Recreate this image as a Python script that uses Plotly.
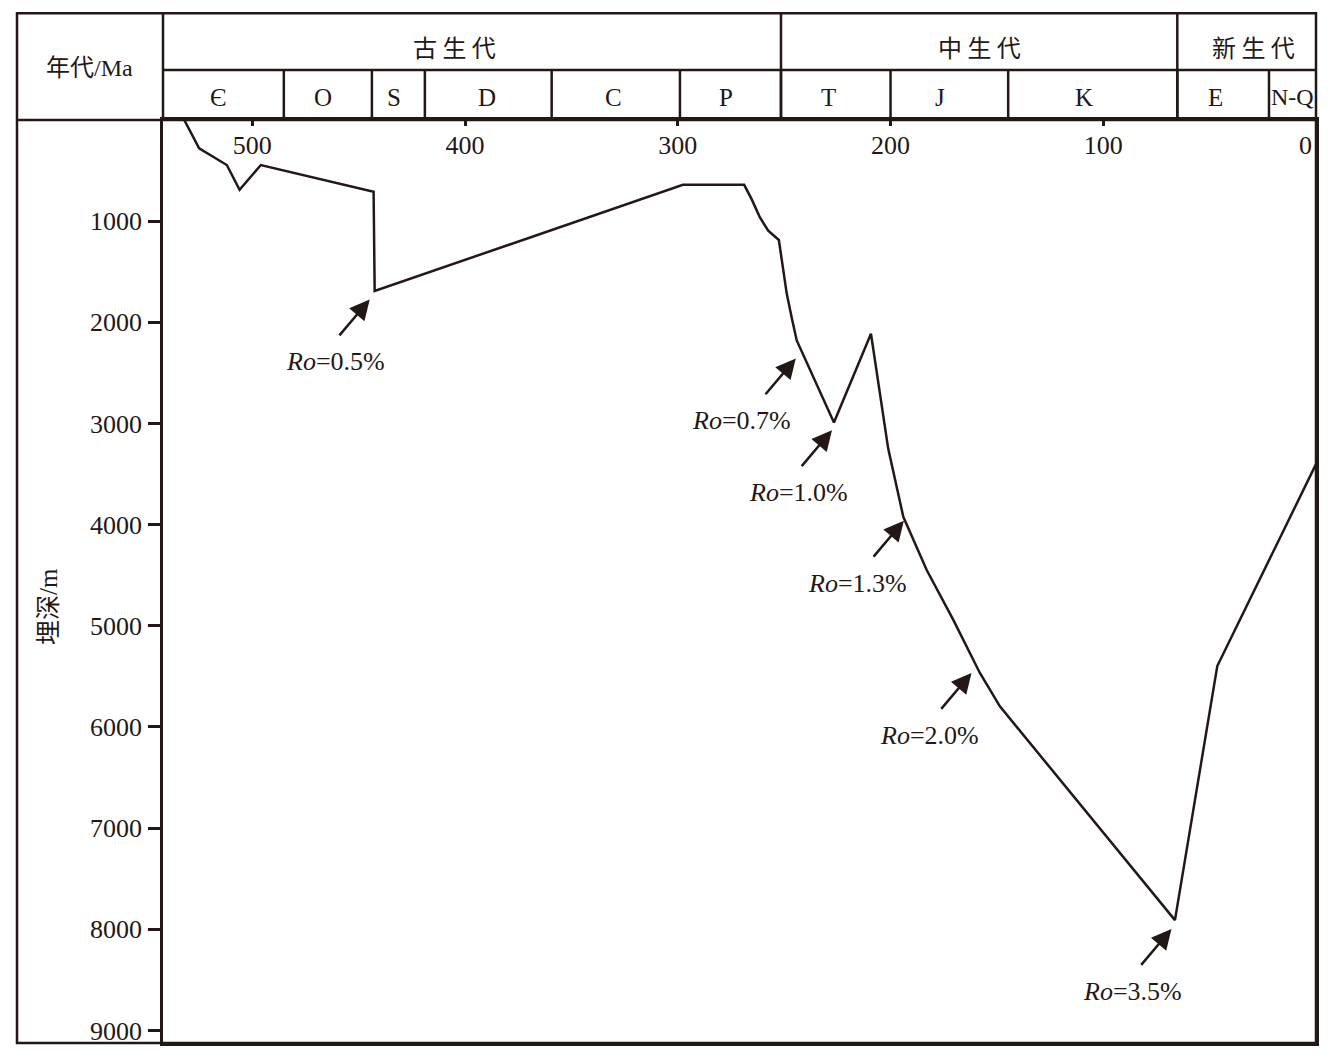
import plotly.graph_objects as go

# ---------------- data ----------------
ages = [532, 525, 512, 506, 496, 443, 442.5, 297.6, 268.8, 265.3, 261.4, 257.5,
        252.5, 251.2, 248.8, 246.5, 244.1, 226.6, 209.2, 201.1, 194.0, 183.0,
        170.5, 158.0, 148.6, 66.3, 46.4, 0]
depths = [0, 280, 445, 690, 445, 710, 1690, 641, 641, 782, 963, 1095,
          1186, 1391, 1716, 1950, 2179, 2991, 2113, 3248, 3922, 4448,
          4941, 5466, 5796, 7909, 5398, 3402]

era_names = ["古 生 代", "中 生 代", "新 生 代"]
era_bounds = [542, 251.5, 65.2, 0]
period_names = ["Є", "O", "S", "D", "C", "P", "T", "J", "K", "E", "N-Q"]
period_bounds = [542, 485.2, 443.8, 418.9, 359.3, 299.0, 251.5, 200.0, 144.7, 65.2, 22.1, 0]

ro_values = ["0.5%", "0.7%", "1.0%", "1.3%", "2.0%", "3.5%"]
ro_ages = [441.8, 241.5, 224.5, 190.7, 158.9, 64.9]
ro_depths = [1699, 2281, 2991, 3886, 5391, 7922]

x_tick_vals = [500, 400, 300, 200, 100]
x_end_label = "0"
y_tick_vals = [1000, 2000, 3000, 4000, 5000, 6000, 7000, 8000, 9000]

x_title = "年代/Ma"
y_title = "埋深/m"

# ---------------- style ----------------
INK = "#231815"
LW = 2.5
SERIF = "Liberation Serif, Times New Roman, serif"
CJK = "Liberation Serif, Noto Sans CJK SC, sans-serif"
W, H = 1332, 1058
L, R, T, B = 163, 16, 120, 13
PW, PH = W - L - R, H - T - B


def px_to_paper_x(px):
    return (px - L) / PW


def py_to_paper_y(py):
    return (H - B - py) / PH


label_xshift = [-41, -61, -40, -53, -48, -45]
label_yshift = -70
era_xshift = [-17, 0, 7]
period_xshift = [-5, -5, -4, -1, -2, -4, -7, -9, -9, -8, 0]
period_size = [25, 25, 25, 25, 25, 25, 25, 25, 25, 25, 24]

fig = go.Figure()
fig.add_trace(go.Scatter(
    x=ages, y=depths, mode="lines",
    line=dict(color=INK, width=LW),
    hoverinfo="skip", showlegend=False,
))

shapes = []
top_y = py_to_paper_y(13)
mid_y = py_to_paper_y(70)
left_x = px_to_paper_x(17)

# outer frame
shapes.append(dict(type="rect", xref="paper", yref="paper", x0=left_x, x1=1, y0=0, y1=top_y,
                   line=dict(color=INK, width=LW)))
# header lines
shapes.append(dict(type="line", xref="paper", yref="paper", x0=left_x, x1=1, y0=1, y1=1,
                   line=dict(color=INK, width=LW)))
shapes.append(dict(type="line", xref="paper", yref="paper", x0=0, x1=1, y0=mid_y, y1=mid_y,
                   line=dict(color=INK, width=LW)))
shapes.append(dict(type="line", xref="paper", yref="paper", x0=0, x1=0, y0=1, y1=top_y,
                   line=dict(color=INK, width=LW)))
for b in era_bounds[1:-1]:
    shapes.append(dict(type="line", xref="x", yref="paper", x0=b, x1=b, y0=1, y1=top_y,
                       line=dict(color=INK, width=LW)))
for b in period_bounds[1:-1]:
    shapes.append(dict(type="line", xref="x", yref="paper", x0=b, x1=b, y0=1, y1=mid_y,
                       line=dict(color=INK, width=LW)))

annotations = []
era_y = py_to_paper_y(46)
per_y = py_to_paper_y(97)
for i, name in enumerate(era_names):
    xm = (era_bounds[i] + era_bounds[i + 1]) / 2
    annotations.append(dict(x=xm, y=era_y, xref="x", yref="paper", text=name, showarrow=False,
                            xanchor="center", yanchor="middle", xshift=era_xshift[i],
                            font=dict(family="Noto Sans CJK SC", size=24, color=INK)))
for i, name in enumerate(period_names):
    xm = (period_bounds[i] + period_bounds[i + 1]) / 2
    annotations.append(dict(x=xm, y=per_y, xref="x", yref="paper", text=name, showarrow=False,
                            xanchor="center", yanchor="middle", xshift=period_xshift[i],
                            font=dict(family=SERIF, size=period_size[i], color=INK)))
annotations.append(dict(x=px_to_paper_x(90), y=py_to_paper_y(68), xref="paper", yref="paper",
                        text=x_title, showarrow=False, xanchor="center", yanchor="middle",
                        font=dict(family=CJK, size=24, color=INK)))
annotations.append(dict(x=px_to_paper_x(49), y=py_to_paper_y(608), xref="paper", yref="paper",
                        text=y_title, showarrow=False, xanchor="center", yanchor="middle",
                        textangle=-90, font=dict(family=CJK, size=25, color=INK)))
# end label of the age axis (0 Ma), right-aligned against the frame
annotations.append(dict(x=0, y=1, xref="x", yref="paper", text=x_end_label, showarrow=False,
                        xanchor="right", yanchor="top", xshift=-2, yshift=-9,
                        font=dict(family=SERIF, size=26, color=INK)))

for i, v in enumerate(ro_values):
    annotations.append(dict(x=ro_ages[i], y=ro_depths[i], xref="x", yref="y", text="",
                            showarrow=True, arrowhead=2, arrowsize=1.6, arrowwidth=LW,
                            arrowcolor=INK, standoff=10, ax=-38, ay=45))
    annotations.append(dict(x=ro_ages[i], y=ro_depths[i], xref="x", yref="y",
                            text="<i>Ro</i>=" + v, showarrow=False,
                            xanchor="center", yanchor="middle",
                            xshift=label_xshift[i], yshift=label_yshift,
                            font=dict(family=SERIF, size=26, color=INK)))

fig.update_layout(
    width=W, height=H,
    margin=dict(l=L, r=R, t=T, b=B, pad=0),
    paper_bgcolor="white", plot_bgcolor="white",
    shapes=shapes, annotations=annotations,
    showlegend=False,
)
fig.update_xaxes(
    range=[542, 0], side="top", showgrid=False, zeroline=False,
    showline=True, mirror=True, linecolor=INK, linewidth=LW,
    tickvals=x_tick_vals, ticks="inside", ticklen=6, tickwidth=LW, tickcolor=INK,
    ticklabelposition="inside", ticklabelstandoff=12,
    tickfont=dict(family=SERIF, size=26, color=INK),
)
fig.update_yaxes(
    range=[9124, 0], showgrid=False, zeroline=False,
    showline=True, mirror=True, linecolor=INK, linewidth=LW,
    tickvals=y_tick_vals, ticks="outside", ticklen=12, tickwidth=LW, tickcolor=INK,
    ticklabelstandoff=1,
    tickfont=dict(family=SERIF, size=26, color=INK),
)

fig.write_html("out.html", config={"displayModeBar": False},
               post_script="document.body.style.margin='0';")
